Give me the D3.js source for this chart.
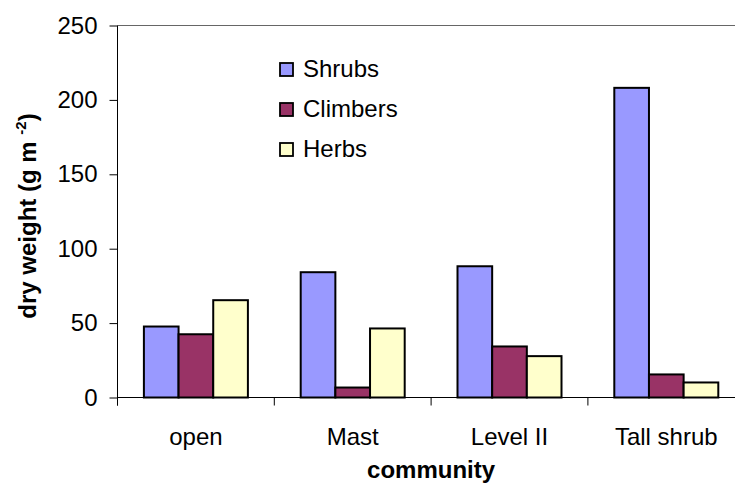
<!DOCTYPE html>
<html lang="en">
<head>
    <meta charset="UTF-8">
    <title>dry weight</title>
    <script src="https://cdn.jsdelivr.net/npm/d3@7"></script>
    <style>
        * {
            padding: 0;
            margin: 0;
        }

        body {
            background: #fff;
        }

        svg text {
            font-family: "Liberation Sans", Arial, sans-serif;
            fill: #000;
        }
    </style>
</head>
<body>
    <div class="context"></div>
    <script>
        // values
        let categories = ["open", "Mast", "Level II", "Tall shrub"];
        let seriesNames = ["Shrubs", "Climbers", "Herbs"];
        let shrubs = [47.7, 84.2, 88.2, 208.1];
        let climbers = [42.5, 6.7, 34.3, 15.5];
        let herbs = [65.4, 46.4, 27.8, 10.1];
        let yTicks = [0, 50, 100, 150, 200, 250];
        let colors = ["#9999FF", "#993366", "#FFFFCC"];

        let W = 735, H = 487;
        let plotL = 117.5, plotT = 25.5, plotB = 397.5;
        let band = 156.8; // width of one category
        let groupW = 104;

        let svg = d3.select(".context").append("svg")
            .attr("width", W)
            .attr("height", H);

        let x0 = d3.scaleBand()
            .domain(categories)
            .range([plotL, plotL + band * categories.length]);
        let x1 = d3.scaleBand()
            .domain(seriesNames)
            .range([(band - groupW) / 2, (band + groupW) / 2]);
        let y = d3.scaleLinear()
            .domain([0, 250])
            .range([plotB, plotT]);

        let color = d3.scaleOrdinal().domain(seriesNames).range(colors);

        let rows = categories.map((c, i) => ({
            cat: c,
            vals: [shrubs[i], climbers[i], herbs[i]].map((v, k) => ({ name: seriesNames[k], v: v }))
        }));

        // plot top border
        svg.append("line")
            .attr("x1", plotL).attr("x2", W)
            .attr("y1", plotT).attr("y2", plotT)
            .attr("stroke", "#666").attr("stroke-width", 1);

        // bars
        let g = svg.selectAll("g.grp").data(rows).enter().append("g")
            .attr("class", "grp")
            .attr("transform", d => "translate(" + x0(d.cat) + ",0)");
        g.selectAll("rect").data(d => d.vals).enter().append("rect")
            .attr("x", d => x1(d.name))
            .attr("width", x1.bandwidth())
            .attr("y", d => y(d.v))
            .attr("height", d => y(0) - y(d.v))
            .attr("fill", d => color(d.name))
            .attr("stroke", "#000")
            .attr("stroke-width", 2);

        // y axis
        let yAxis = svg.append("g")
            .attr("transform", "translate(" + plotL + ",0)")
            .call(d3.axisLeft(y).tickValues(yTicks).tickSize(8).tickSizeOuter(0).tickPadding(12));
        yAxis.select(".domain").remove();
        yAxis.selectAll("text").style("font-size", "24px").attr("font-family", null);
        yAxis.selectAll("line").attr("stroke", "#000");
        svg.append("line")
            .attr("x1", plotL).attr("x2", plotL)
            .attr("y1", plotT).attr("y2", plotB + 8)
            .attr("stroke", "#000");

        // x axis
        svg.append("line")
            .attr("x1", plotL).attr("x2", W)
            .attr("y1", plotB).attr("y2", plotB)
            .attr("stroke", "#000");
        let bounds = categories.map(c => x0(c)).concat([x0.range()[1]]);
        svg.selectAll("line.xt").data(bounds).enter().append("line")
            .attr("class", "xt")
            .attr("x1", d => d).attr("x2", d => d)
            .attr("y1", plotB).attr("y2", plotB + 8)
            .attr("stroke", "#000");
        svg.selectAll("text.cat").data(categories).enter().append("text")
            .attr("class", "cat")
            .attr("x", d => x0(d) + x0.bandwidth() / 2)
            .attr("y", 445)
            .attr("text-anchor", "middle")
            .style("font-size", "24px")
            .text(d => d);

        // axis titles
        svg.append("text")
            .attr("x", (plotL + x0.range()[1]) / 2)
            .attr("y", 478)
            .attr("text-anchor", "middle")
            .style("font-size", "24px")
            .style("font-weight", "bold")
            .text("community");

        let yt = svg.append("text")
            .attr("transform", "translate(36,216) rotate(-90)")
            .attr("text-anchor", "middle")
            .style("font-size", "24px")
            .style("font-weight", "bold");
        yt.append("tspan").text("dry weight (g m ");
        yt.append("tspan").attr("dy", -10).style("font-size", "15px").text("-2");
        yt.append("tspan").attr("dy", 10).text(")");

        // legend
        let leg = svg.selectAll("g.leg").data(seriesNames).enter().append("g")
            .attr("class", "leg")
            .attr("transform", (d, i) => "translate(280," + (63 + i * 40) + ")");
        leg.append("rect")
            .attr("width", 13).attr("height", 13)
            .attr("fill", d => color(d))
            .attr("stroke", "#000")
            .attr("stroke-width", 1.8);
        leg.append("text")
            .attr("x", 23)
            .attr("y", 14)
            .style("font-size", "24px")
            .text(d => d);
    </script>
</body>
</html>
